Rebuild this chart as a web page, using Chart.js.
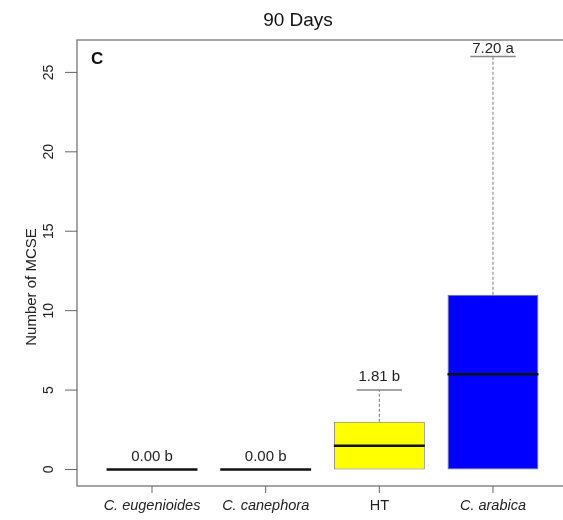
<!DOCTYPE html>
<html>
<head>
<meta charset="utf-8">
<script src="https://cdn.jsdelivr.net/npm/chart.js@4/dist/chart.umd.min.js"></script>
<style>
html,body{margin:0;padding:0;background:#fff;overflow:hidden;}
#wrap{width:563px;height:520px;}
</style>
</head>
<body>
<div id="wrap"><canvas id="c" width="563" height="520"></canvas></div>
<script>
// ---- data ----
const categories = ['C. eugenioides', 'C. canephora', 'HT', 'C. arabica'];
const italicCats = [true, true, false, true];
const lowerWhisker = [0, 0, 0, 0];
const q1 = [0, 0, 0, 0];
const median = [0, 0, 1.5, 6];
const q3 = [0, 0, 3, 11];
const upperWhisker = [0, 0, 5, 26];
const meanLabels = ['0.00 b', '0.00 b', '1.81 b', '7.20 a'];
const boxColors = ['#ffffff', '#ffffff', '#ffff00', '#0000ff'];
const yTicks = [0, 5, 10, 15, 20, 25];
const chartTitle = '90 Days';
const yTitle = 'Number of MCSE';
const panelLetter = 'C';

const FONT = '"Liberation Sans", Arial, sans-serif';

const boxPlugin = {
  id: 'boxExtras',
  afterDatasetsDraw(chart) {
    const ctx = chart.ctx;
    const xs = chart.scales.x, ys = chart.scales.y;
    const ca = chart.chartArea;
    const meta = chart.getDatasetMeta(0);
    ctx.save();
    categories.forEach((c, i) => {
      const x = xs.getPixelForValue(i + 1);
      const bw = meta.data[i] ? meta.data[i].width : 90;
      const half = bw / 2;
      if (upperWhisker[i] > q3[i]) {
        ctx.strokeStyle = '#777';
        ctx.lineWidth = 1;
        ctx.setLineDash([3, 2]);
        ctx.beginPath();
        ctx.moveTo(x, ys.getPixelForValue(q3[i]));
        ctx.lineTo(x, ys.getPixelForValue(upperWhisker[i]));
        ctx.stroke();
        ctx.setLineDash([]);
        ctx.lineWidth = 1.5;
        ctx.strokeStyle = '#888';
        ctx.beginPath();
        const yc = ys.getPixelForValue(upperWhisker[i]);
        ctx.moveTo(x - half / 2, yc);
        ctx.lineTo(x + half / 2, yc);
        ctx.stroke();
      }
      if (lowerWhisker[i] < q1[i]) {
        ctx.strokeStyle = '#777';
        ctx.lineWidth = 1;
        ctx.setLineDash([3, 2]);
        ctx.beginPath();
        ctx.moveTo(x, ys.getPixelForValue(q1[i]));
        ctx.lineTo(x, ys.getPixelForValue(lowerWhisker[i]));
        ctx.stroke();
        ctx.setLineDash([]);
      }
      ctx.strokeStyle = '#111';
      ctx.lineWidth = 2.5;
      ctx.beginPath();
      const ym = ys.getPixelForValue(median[i]);
      ctx.moveTo(x - half, ym);
      ctx.lineTo(x + half, ym);
      ctx.stroke();
      const top = Math.max(upperWhisker[i], q3[i], median[i]);
      ctx.fillStyle = '#222';
      ctx.font = '15px ' + FONT;
      ctx.textAlign = 'center';
      ctx.textBaseline = 'middle';
      const ly = Math.max(ys.getPixelForValue(top) - 13, ca.top + 9);
      ctx.fillText(meanLabels[i], x, ly);
    });
    ctx.restore();
  },
  afterDraw(chart) {
    const ctx = chart.ctx;
    const xs = chart.scales.x, ys = chart.scales.y;
    const ca = chart.chartArea;
    ctx.save();
    ctx.strokeStyle = '#888';
    ctx.lineWidth = 1.5;
    ctx.beginPath();
    ctx.moveTo(chart.width + 5, ca.top);
    ctx.lineTo(ca.left, ca.top);
    ctx.lineTo(ca.left, ca.bottom);
    ctx.lineTo(chart.width + 5, ca.bottom);
    ctx.stroke();
    ctx.lineWidth = 1;
    ctx.strokeStyle = '#666';
    ctx.fillStyle = '#222';
    ctx.font = '14px ' + FONT;
    yTicks.forEach(v => {
      const y = ys.getPixelForValue(v);
      ctx.beginPath();
      ctx.moveTo(ca.left - 12, y);
      ctx.lineTo(ca.left, y);
      ctx.stroke();
      ctx.save();
      ctx.translate(ca.left - 28, y);
      ctx.rotate(-Math.PI / 2);
      ctx.textAlign = 'center';
      ctx.textBaseline = 'middle';
      ctx.fillText(String(v), 0, 0);
      ctx.restore();
    });
    categories.forEach((c, i) => {
      const x = xs.getPixelForValue(i + 1);
      ctx.beginPath();
      ctx.moveTo(x, ca.bottom);
      ctx.lineTo(x, ca.bottom + 7);
      ctx.stroke();
      ctx.font = (italicCats[i] ? 'italic ' : '') + '14.5px ' + FONT;
      ctx.textAlign = 'center';
      ctx.textBaseline = 'middle';
      ctx.fillText(c, x, ca.bottom + 20);
    });
    ctx.save();
    ctx.translate(32, 287);
    ctx.rotate(-Math.PI / 2);
    ctx.font = '15px ' + FONT;
    ctx.textAlign = 'center';
    ctx.textBaseline = 'middle';
    ctx.fillText(yTitle, 0, 0);
    ctx.restore();
    ctx.font = '19px ' + FONT;
    ctx.textAlign = 'center';
    ctx.textBaseline = 'middle';
    ctx.fillStyle = '#111';
    ctx.fillText(chartTitle, 298, 21);
    ctx.font = 'bold 17px ' + FONT;
    ctx.textAlign = 'left';
    ctx.fillText(panelLetter, 91, 59);
    ctx.restore();
  }
};

const boxData = categories.map((c, i) => ({ x: i + 1, y: [q1[i], q3[i]] }));

new Chart(document.getElementById('c'), {
  type: 'bar',
  data: {
    datasets: [{
      data: boxData,
      backgroundColor: boxColors,
      borderColor: '#777',
      borderWidth: 1,
      borderSkipped: false,
      barPercentage: 0.8,
      categoryPercentage: 1.0
    }]
  },
  options: {
    responsive: false,
    animation: false,
    events: [],
    layout: { padding: { left: 77, top: 40, right: 0, bottom: 34 } },
    plugins: { legend: { display: false }, tooltip: { enabled: false }, title: { display: false } },
    scales: {
      x: {
        type: 'linear', min: 0.34, max: 4.616, display: false, offset: false,
        ticks: { stepSize: 1 },
        afterBuildTicks(scale) {
          scale.ticks = scale.ticks.filter(t => Number.isInteger(t.value));
        }
      },
      y: { min: -1.04, max: 27.04, display: false }
    }
  },
  plugins: [boxPlugin]
});
</script>
</body>
</html>
